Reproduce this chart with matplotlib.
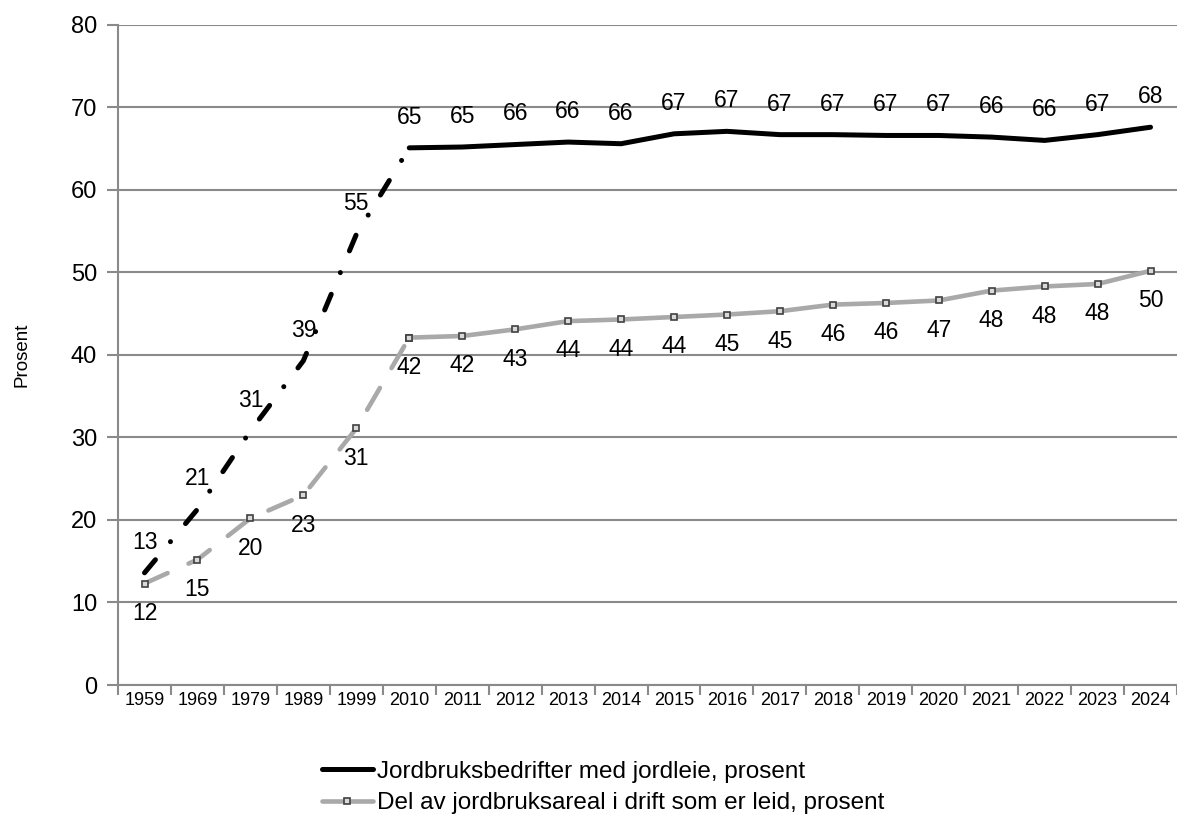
import matplotlib
matplotlib.use("Agg")
import matplotlib.pyplot as plt
from matplotlib.lines import Line2D

plt.rcParams['font.family'] = ['Liberation Sans', 'DejaVu Sans']

years = ["1959", "1969", "1979", "1989", "1999", "2010", "2011", "2012", "2013", "2014",
         "2015", "2016", "2017", "2018", "2019", "2020", "2021", "2022", "2023", "2024"]
farms = [13.6, 21.3, 30.8, 39.3, 54.6, 65.1, 65.2, 65.5, 65.8, 65.6,
         66.8, 67.1, 66.7, 66.7, 66.6, 66.6, 66.4, 66.0, 66.7, 67.6]
farm_labels = [13, 21, 31, 39, 55, 65, 65, 66, 66, 66, 67, 67, 67, 67, 67, 67, 66, 66, 67, 68]
area = [12.3, 15.2, 20.2, 23.0, 31.1, 42.1, 42.3, 43.1, 44.1, 44.3,
        44.6, 44.9, 45.3, 46.1, 46.3, 46.6, 47.8, 48.3, 48.6, 50.2]
area_labels = [12, 15, 20, 23, 31, 42, 42, 43, 44, 44, 44, 45, 45, 46, 46, 47, 48, 48, 48, 50]

series1_name = "Jordbruksbedrifter med jordleie, prosent"
series2_name = "Del av jordbruksareal i drift som er leid, prosent"

fig = plt.figure(figsize=(11.77, 8.19), dpi=100)
ax = fig.add_axes([0.1003, 0.1636, 0.8997, 0.806])

x = list(range(len(years)))
split = 5
black = "#000000"
gray = "#a9a9a9"
lw_b = 5.0 * 72 / 100
lw_g = 4.6 * 72 / 100

# black series
ax.plot(x[:split + 1], farms[:split + 1], color=black, lw=lw_b,
        linestyle=(0, (3.4, 4.7, 0.01, 4.7)), dash_capstyle='round', zorder=4)
ax.plot(x[split:], farms[split:], color=black, lw=lw_b, solid_capstyle='round',
        solid_joinstyle='round', zorder=4)

# gray series
mk = dict(marker='s', markersize=5, markerfacecolor='#d9d9d9',
          markeredgecolor='#404040', markeredgewidth=1.2)
ax.plot(x[:split + 1], area[:split + 1], color=gray, lw=lw_g,
        linestyle=(0, (5.5, 5.0)), dash_capstyle='round', zorder=3, **mk)
ax.plot(x[split:], area[split:], color=gray, lw=lw_g, solid_capstyle='round',
        solid_joinstyle='round', zorder=3, **mk)

for xi, v, lab in zip(x, farms, farm_labels):
    ax.annotate(str(lab), (xi, v), xytext=(0, 22), textcoords='offset points',
                ha='center', va='center', fontsize=16.5, color='#000000')
for xi, v, lab in zip(x, area, area_labels):
    ax.annotate(str(lab), (xi, v), xytext=(0, -21.5), textcoords='offset points',
                ha='center', va='center', fontsize=16.5, color='#000000')

ax.set_xlim(-0.5, len(years) - 0.5)
ax.set_ylim(0, 80)
ax.set_yticks(range(0, 81, 10))
ax.set_yticklabels([str(v) for v in range(0, 81, 10)], fontsize=17)
ax.set_xticks(x)
ax.set_xticklabels(years, fontsize=13)
ax.set_xticks([i - 0.5 for i in range(len(years) + 1)], minor=True)
ax.tick_params(axis='x', which='major', length=0, pad=5)
ax.tick_params(axis='x', which='minor', length=7, width=1.5, color='#8a8a8a')
ax.tick_params(axis='y', length=8, width=1.5, color='#8a8a8a', pad=7)

ax.grid(axis='y', color='#8a8a8a', lw=1.5)
ax.set_axisbelow(True)
for s in ['top', 'right']:
    ax.spines[s].set_visible(False)
for s in ['left', 'bottom']:
    ax.spines[s].set_color('#8a8a8a')
    ax.spines[s].set_linewidth(1.5)

ax.set_ylabel("Prosent", fontsize=13.5, labelpad=29)

handles = [Line2D([], [], color=black, lw=lw_b, solid_capstyle='round'),
           Line2D([], [], color=gray, lw=lw_g, solid_capstyle='round', **mk)]
fig.legend(handles, [series1_name, series2_name], loc='center left',
           bbox_to_anchor=(0.263, 0.0385), frameon=False, fontsize=17.5,
           handlelength=2.1, handletextpad=0.17, labelspacing=0.38, borderpad=0)

fig.savefig("out.png", dpi=100)
